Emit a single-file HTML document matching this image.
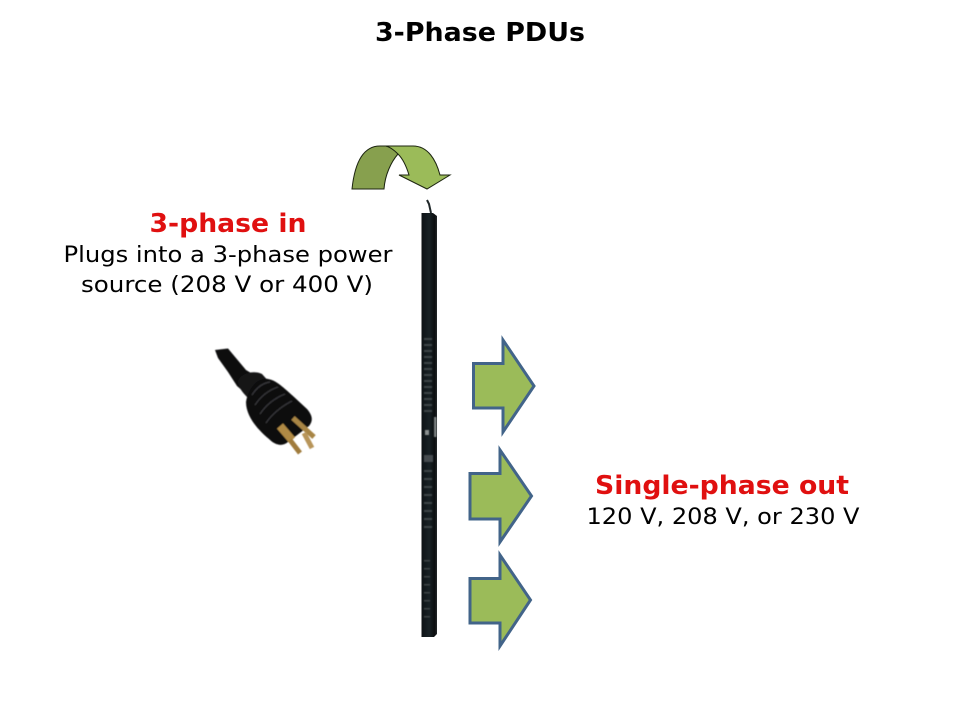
<!DOCTYPE html>
<html>
<head>
<meta charset="utf-8">
<style>
html,body{margin:0;padding:0;background:#fff;width:960px;height:720px;overflow:hidden}
svg{display:block}
text{font-family:"DejaVu Sans","Liberation Sans",sans-serif;text-anchor:middle}
.h{font-weight:bold;font-size:26px}
.t{font-size:22.500px;fill:#000}
</style>
</head>
<body>
<svg width="960" height="720" viewBox="0 0 960 720" xmlns="http://www.w3.org/2000/svg">
<defs>
<linearGradient id="pdu" x1="0" x2="1" y1="0" y2="0">
<stop offset="0" stop-color="#0e1316"/><stop offset="0.5" stop-color="#182125"/><stop offset="0.85" stop-color="#0b0e10"/><stop offset="1" stop-color="#23282a"/>
</linearGradient>
<filter id="soft" x="-10%" y="-10%" width="120%" height="120%"><feGaussianBlur stdDeviation="0.6"/></filter>
</defs>

<text class="h" x="480" y="41" fill="#000" textLength="210" lengthAdjust="spacingAndGlyphs">3-Phase PDUs</text>

<text class="h" x="228" y="232" fill="#e01010" textLength="157" lengthAdjust="spacingAndGlyphs">3-phase in</text>
<text class="t" x="228" y="262" textLength="329" lengthAdjust="spacingAndGlyphs">Plugs into a 3-phase power</text>
<text class="t" x="227" y="292" textLength="292" lengthAdjust="spacingAndGlyphs">source (208 V or 400 V)</text>

<text class="h" x="722" y="494" fill="#e01010" textLength="254" lengthAdjust="spacingAndGlyphs">Single-phase out</text>
<text class="t" x="723" y="524" textLength="273" lengthAdjust="spacingAndGlyphs">120 V, 208 V, or 230 V</text>

<!-- curved arrow -->
<path d="M352 189 C354 170 360 146 380 146 L386 146 C391 147 395 150 398 154 C391 162 385 175 384 189 Z" fill="#87a04e" stroke="#1c2410" stroke-width="1"/>
<path d="M386 146 L413 146 C428 146 436 160 440 175 L450 175 L427 189 L399 175 L409 175 C406 165 403 159 398 154 C394 150 390 147 386 146 Z" fill="#9bbb59" stroke="#1c2410" stroke-width="1"/>

<!-- PDU -->
<path d="M427 200 L429 204 L431 213" fill="none" stroke="#20282a" stroke-width="2"/>
<path d="M421.500 213 L433 213 L437 216 L437 634 L434 637 L421.500 637 Z" fill="url(#pdu)"/>
<g filter="url(#soft)">
<g fill="#3c4447">
<rect x="424" y="338" width="8" height="2"/><rect x="424" y="344" width="8" height="2"/><rect x="424" y="350" width="8" height="2"/><rect x="424" y="356" width="8" height="2"/><rect x="424" y="362" width="8" height="2"/><rect x="424" y="368" width="8" height="2"/><rect x="424" y="374" width="8" height="2"/><rect x="424" y="380" width="8" height="2"/><rect x="424" y="386" width="8" height="2"/><rect x="424" y="392" width="8" height="2"/><rect x="424" y="398" width="8" height="2"/><rect x="424" y="404" width="8" height="2"/><rect x="424" y="410" width="8" height="2"/>
<rect x="424" y="470" width="8" height="2"/><rect x="424" y="478" width="8" height="2"/><rect x="424" y="486" width="8" height="2"/><rect x="424" y="494" width="8" height="2"/><rect x="424" y="502" width="8" height="2"/><rect x="424" y="510" width="8" height="2"/><rect x="424" y="518" width="8" height="2"/><rect x="424" y="526" width="8" height="2"/>
<rect x="424" y="560" width="6" height="1.500"/><rect x="424" y="568" width="6" height="1.500"/><rect x="424" y="576" width="6" height="1.500"/><rect x="424" y="584" width="6" height="1.500"/><rect x="424" y="592" width="6" height="1.500"/><rect x="424" y="600" width="6" height="1.500"/><rect x="424" y="608" width="6" height="1.500"/><rect x="424" y="616" width="6" height="1.500"/>
</g>
<rect x="434" y="417" width="2.500" height="20" fill="#7a8080"/>
<rect x="425" y="430" width="4" height="5" fill="#8a9090"/>
<rect x="424" y="455" width="9" height="7" fill="#454c4f"/>
</g>

<!-- block arrows -->
<g fill="#9bbb59" stroke="#426489" stroke-width="3" stroke-linejoin="miter">
<path d="M473.500 363.500 H503 V340 L534 386 L503 432 V408 H473.500 Z"/>
<path d="M470 473.500 H500 V450 L531.500 496 L500 542 V519 H470 Z"/>
<path d="M470 578.500 H500 V555 L530.500 600 L500 646 V623 H470 Z"/>
</g>

<!-- plug -->
<g filter="url(#soft)">
<path d="M215 350 L228 348.500 L246 370 L256 376 L244 392 L237 386 L228 372 L218 358 Z" fill="#0d0d0f"/>
<path d="M238 381 C241 373 254 370 262 374 L270 383 L250 400 C244 394 238 388 238 381 Z" fill="#141416"/>
<path d="M246 402 C248 388 258 377 268 379 C276 380 284 388 293 396 L307 409 C313 416 313 421 309 426 L288 442 C282 447 275 445 269 439 C257 429 246 416 246 402 Z" fill="#0f0f11"/>
<g fill="none" stroke="#353538" stroke-width="1.400">
<path d="M252 395 C257 387 263 383 270 382"/>
<path d="M255 405 C261 396 269 390 278 387"/>
<path d="M260 414 C266 405 275 398 285 394"/>
<path d="M266 423 C272 414 282 406 292 401"/>
</g>
<g fill="none" stroke-linecap="butt">
<path d="M293 418 L314 437" stroke="#a88544" stroke-width="5"/>
<path d="M304 433 L312 448" stroke="#b8955a" stroke-width="5"/>
<path d="M280 426 L292 440" stroke="#b08a45" stroke-width="8"/>
<path d="M290 440 L300 453" stroke="#a07c3c" stroke-width="5"/>
</g>
</g>
</svg>
</body>
</html>
